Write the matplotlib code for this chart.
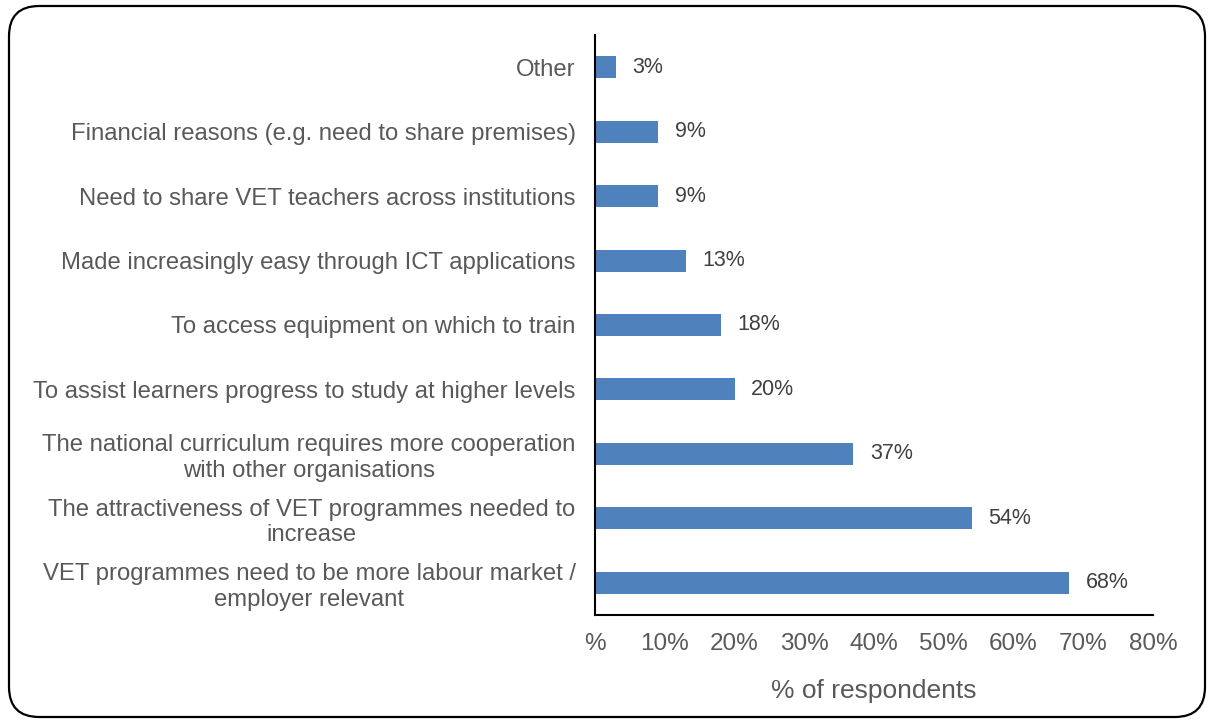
import matplotlib
matplotlib.use("Agg")
import matplotlib.pyplot as plt
from matplotlib.patches import FancyBboxPatch

plt.rcParams['font.family'] = ['Liberation Sans', 'DejaVu Sans']

categories = [
    "VET programmes need to be more labour market /\nemployer relevant",
    "The attractiveness of VET programmes needed to\nincrease",
    "The national curriculum requires more cooperation\nwith other organisations",
    "To assist learners progress to study at higher levels",
    "To access equipment on which to train",
    "Made increasingly easy through ICT applications",
    "Need to share VET teachers across institutions",
    "Financial reasons (e.g. need to share premises)",
    "Other",
]
values = [68, 54, 37, 20, 18, 13, 9, 9, 3]
xticks = [0, 10, 20, 30, 40, 50, 60, 70, 80]
xtick_labels = ["%", "10%", "20%", "30%", "40%", "50%", "60%", "70%", "80%"]

text_color = "#595959"
bar_color = "#4F81BD"

fig = plt.figure(figsize=(12.08, 7.24), dpi=100)
ax = fig.add_axes([595 / 1208, 1 - 615 / 724, 558 / 1208, 580 / 724])

y = list(range(len(categories)))
ax.barh(y, values, height=0.34, color=bar_color)
for yi, v in zip(y, values):
    ax.text(v + 2.4, yi, f"{v}%", va="center", ha="left",
            fontsize=15.5, color="#404040")

ax.set_xlim(0, 80)
ax.set_ylim(-0.5, len(categories) - 0.5)
ax.set_yticks(y)
ax.set_yticklabels(categories, fontsize=17.2, color=text_color,
                   multialignment="center", linespacing=1.2)
ax.set_xticks(xticks)
ax.set_xticklabels(xtick_labels, fontsize=17.5, color=text_color)
ax.tick_params(axis="y", length=0, pad=14)
ax.tick_params(axis="x", length=0, pad=13)
ax.set_xlabel("% of respondents", fontsize=19, color=text_color, labelpad=17)

for side in ("top", "right"):
    ax.spines[side].set_visible(False)
ax.spines["left"].set_linewidth(1.5)
ax.spines["bottom"].set_linewidth(1.5)

border = FancyBboxPatch((9 / 1208, 7 / 724), 1196 / 1208, 711 / 724,
                        boxstyle="round,pad=0,rounding_size=0.025",
                        transform=fig.transFigure, fill=False,
                        edgecolor="black", linewidth=1.6,
                        mutation_aspect=1208 / 724)
fig.patches.append(border)

fig.savefig("out.png", dpi=100)
